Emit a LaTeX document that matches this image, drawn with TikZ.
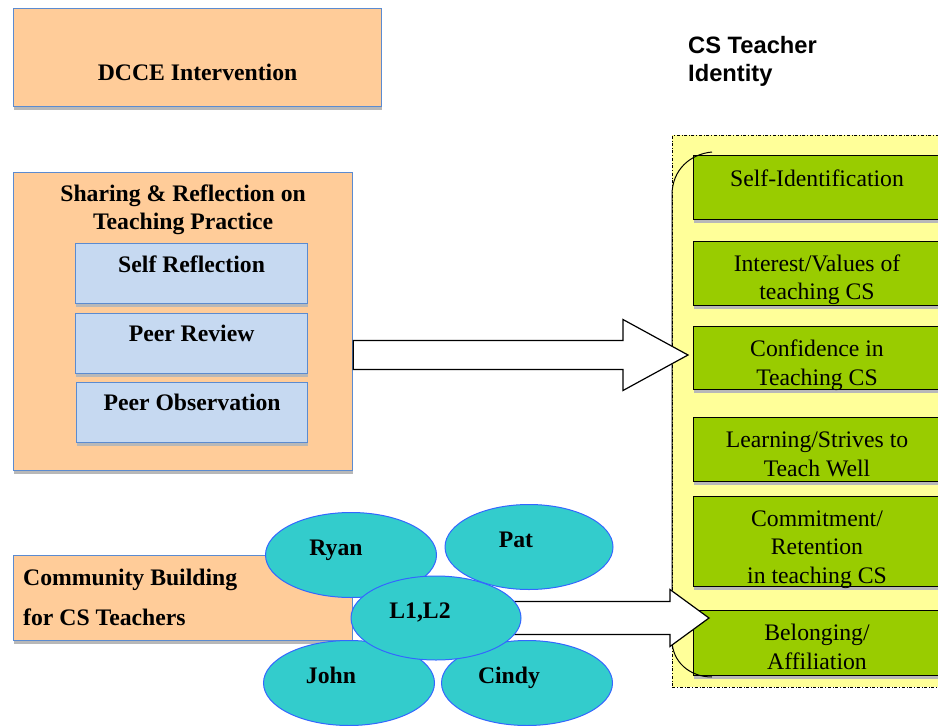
\documentclass[tikz,border=0pt]{standalone}
\usepackage{fontspec}
\setmainfont{Liberation Serif}
\newfontfamily\helvfont{Liberation Sans}
\usetikzlibrary{positioning,calc,shapes.geometric,shadows}

\definecolor{peach}{HTML}{FFCC99}
\definecolor{boxblue}{HTML}{5B8BD0}
\definecolor{paleblue}{HTML}{C6D9F1}
\definecolor{leafgreen}{HTML}{99CC00}
\definecolor{paleyellow}{HTML}{FFFF99}
\definecolor{bubblecyan}{HTML}{33CCCC}
\definecolor{ringblue}{HTML}{3366FF}

\pgfdeclarelayer{front}
\pgfsetlayers{main,front}

\tikzset{
  every node/.style={font=\fontsize{23.7}{28.5}\selectfont},
  boxshadow/.style={drop shadow={shadow xshift=0pt,shadow yshift=-3pt,fill=black!28,opacity=1}},
  peachbox/.style={draw=boxblue,fill=peach,line width=1.2pt,anchor=north west,inner sep=0pt,boxshadow},
  bluebox/.style={draw=boxblue,fill=paleblue,line width=1.2pt,anchor=north west,inner sep=0pt,boxshadow},
  greenbox/.style={draw=black,fill=leafgreen,line width=1pt,anchor=north west,minimum width=247,
    inner sep=0pt,boxshadow},
  greentext/.style={align=center,inner sep=0pt},
  bubble/.style={ellipse,draw=ringblue,fill=bubblecyan,line width=1pt,inner sep=0pt,
    minimum width=171,minimum height=85},
  boldtext/.style={font=\fontsize{23.7}{28.5}\selectfont\bfseries,inner sep=0pt},
  oneline/.style={text height=0.7em,text depth=0.2em},
  blockarrow/.style={draw=black,fill=white,line width=1.2pt,line join=miter}
}

\begin{document}
\begin{tikzpicture}[x=1pt,y=-1pt]
  \useasboundingbox (0,0) rectangle (938,726);
  \clip (0,0) rectangle (938,726);

  % left column
  \node[peachbox,minimum width=368,minimum height=98] (dcce) at (13,8) {};
  \node[boldtext,oneline] (dcce-t) at ($(dcce.north)+(0,70)$) {DCCE Intervention};

  \node[peachbox,minimum width=339,minimum height=298] (share) at (13,172) {};
  \node[boldtext,align=center] (share-t) at ($(share.north)+(0,38)$) {Sharing \& Reflection on\\Teaching Practice};
  \node[bluebox,minimum width=232,minimum height=60] (selfref) at (75,243) {};
  \node[boldtext,oneline] (selfref-t) at ($(selfref.north)+(0,27)$) {Self Reflection};
  \node[bluebox,minimum width=232,minimum height=60] (peerrev) at (75,313) {};
  \node[boldtext,oneline] (peerrev-t) at ($(peerrev.north)+(0,26)$) {Peer Review};
  \node[bluebox,minimum width=231,minimum height=60] (peerobs) at (76,382) {};
  \node[boldtext,oneline] (peerobs-t) at ($(peerobs.north)+(0,26)$) {Peer Observation};

  \node[peachbox,minimum width=339,minimum height=85] (commu) at (13,555) {};
  \node[boldtext,align=left,anchor=west,font=\fontsize{23.7}{40}\selectfont\bfseries]
    (commu-t) at ($(commu.west)+(10,-1)$) {Community Building\\for CS Teachers};

  % identity side
  \node[anchor=west,align=left,inner sep=0pt,font=\fontsize{23.7}{28}\selectfont\helvfont\bfseries]
    (title) at (688,61) {CS Teacher\\Identity};

  \node[draw,dash dot,fill=paleyellow,line width=0.8pt,anchor=north west,
    minimum width=290,minimum height=552] (ident) at (672,135) {};

  \node[greenbox,minimum height=64] (selfid) at (693,155) {};
  \node[greenbox,minimum height=64] (interest) at (693,241) {};
  \node[greenbox,minimum height=63] (conf) at (693,326) {};
  \node[greenbox,minimum height=64] (learn) at (693,417) {};
  \node[greenbox,minimum height=90] (commit) at (693,496) {};
  \node[greenbox,minimum height=65] (belong) at (693,610) {};
  \node[greentext,oneline] (selfid-t) at ($(selfid)+(0,-4)$) {Self-Identification};
  \node[greentext] (interest-t) at ($(interest)+(0,6)$) {Interest/Values of\\teaching CS};
  \node[greentext] (conf-t) at ($(conf)+(0,7)$) {Confidence in\\Teaching CS};
  \node[greentext] (learn-t) at ($(learn)+(0,5)$) {Learning/Strives to\\Teach Well};
  \node[greentext] (commit-t) at ($(commit)+(0,8)$) {Commitment/\\Retention\\in teaching CS};
  \node[greentext] (belong-t) at ($(belong)+(0,4)$) {Belonging/\\Affiliation};

  \draw[line width=1pt] (712,152) .. controls (690,154) and (672,170) .. (672,195)
    -- (672,640) .. controls (672,662) and (690,677) .. (712,677);

  % teachers
  \begin{pgfonlayer}{front}
    \node[bubble] (ryan) at (351,555) {};
    \node[bubble,minimum width=168] (pat) at (529,547) {};
    \node[bubble] (john) at (349,683) {};
    \node[bubble] (cindy) at (527,683) {};
    \node[bubble,minimum width=170,minimum height=84] (l12) at (436,618) {};
    \node[boldtext,oneline] (ryan-t) at ($(ryan)+(-15,-2)$) {Ryan};
    \node[boldtext,oneline] (pat-t) at ($(pat)+(-13,-2)$) {Pat};
    \node[boldtext,oneline] (john-t) at ($(john)+(-18,-2)$) {John};
    \node[boldtext,oneline] (cindy-t) at ($(cindy)+(-18,-2)$) {Cindy};
    \node[boldtext,oneline] (l12-t) at ($(l12)+(-16,-2)$) {L1,L2};
  \end{pgfonlayer}

  % block arrows
  \coordinate (a1t) at ($(conf.west)+(-5,-3)$);
  \coordinate (a1s) at (share.east |- a1t);
  \draw[blockarrow] ($(a1s)+(0,-14.5)$) -- ($(a1t)+(-65,-14.5)$) -- ($(a1t)+(-65,-35.5)$) -- (a1t)
    -- ($(a1t)+(-65,35.5)$) -- ($(a1t)+(-65,14.5)$) -- ($(a1s)+(0,14.5)$) -- cycle;

  \coordinate (a2t) at ($(l12.east -| belong.west)+(16,0)$);
  \coordinate (a2s) at ($(l12.east)+(-10,0)$);
  \draw[blockarrow] ($(a2s)+(0,-16.5)$) -- ($(a2t)+(-39,-16.5)$) -- ($(a2t)+(-39,-28.5)$) -- (a2t)
    -- ($(a2t)+(-39,28.5)$) -- ($(a2t)+(-39,16.5)$) -- ($(a2s)+(0,16.5)$) -- cycle;
\end{tikzpicture}
\end{document}
